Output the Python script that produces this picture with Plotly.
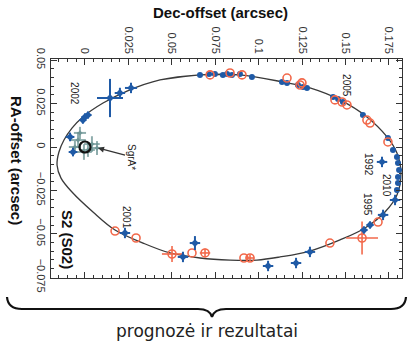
import plotly.graph_objects as go

# ---------------- data (arcsec) ----------------
orbit_dec = [0.0432, 0.0662, 0.0892, 0.1140, 0.1295, 0.1468, 0.1623, 0.1739, 0.1796, 0.1819,
             0.1796, 0.1727, 0.1612, 0.1468, 0.1295, 0.1123, 0.0990, 0.0835, 0.0662, 0.0489,
             0.0334, 0.0173, 0.0046, -0.0075, -0.0138, -0.0161, -0.0150, -0.0121, -0.0075, -0.0012,
             0.0104, 0.0242, 0.0432, 0.0662, 0.0892]
orbit_ra = [0.0386, 0.0415, 0.0415, 0.0374, 0.0340, 0.0271, 0.0173, 0.0058, -0.0035, -0.0150,
            -0.0276, -0.0374, -0.0466, -0.0535, -0.0599, -0.0633, -0.0651, -0.0651, -0.0639, -0.0610,
            -0.0553, -0.0478, -0.0374, -0.0259, -0.0179, -0.0104, -0.0029, 0.0040, 0.0109, 0.0173,
            0.0253, 0.0322, 0.0386, 0.0415, 0.0415]

blue_dot_dec = [0.0662, 0.0714, 0.0748, 0.0794, 0.0818, 0.0846, 0.0892, 0.0961, 0.1134, 0.1163,
                0.1226, 0.1255, 0.1278, 0.1428, 0.1457, 0.1485, 0.1600, 0.1744, 0.1773, 0.1796,
                0.1802, 0.1808, 0.1802, 0.1802, 0.1796]
blue_dot_ra = [0.0415, 0.0420, 0.0420, 0.0415, 0.0420, 0.0415, 0.0420, 0.0403, 0.0374, 0.0369,
               0.0357, 0.0345, 0.0339, 0.0288, 0.0276, 0.0259, 0.0184, 0.0052, -0.0017, -0.0058,
               -0.0092, -0.0132, -0.0173, -0.0207, -0.0248]

orange_dec = [0.0720, 0.0835, 0.0904, 0.1163, 0.1238, 0.1249, 0.1439, 0.1480, 0.1508, 0.1623,
              0.1641, 0.1744, 0.1687, 0.1410, 0.0915, 0.0950, 0.0691, 0.0616, 0.0294, 0.0173,
              0.1595, 0.0501]
orange_ra = [0.0415, 0.0426, 0.0415, 0.0397, 0.0357, 0.0369, 0.0271, 0.0259, 0.0242, 0.0155,
             0.0138, 0.0029, -0.0432, -0.0553, -0.0639, -0.0639, -0.0610, -0.0610, -0.0524, -0.0484,
             -0.0524, -0.0616]
orange_err_dec = [0, 0, 0, 0, 0, 0, 0, 0, 0, 0, 0, 0, 0, 0, 0, 0.0025, 0.0030, 0, 0, 0,
                  0.0092, 0.0058]
orange_err_ra = [0, 0, 0, 0, 0, 0, 0, 0, 0, 0, 0, 0, 0, 0, 0, 0.0020, 0.0025, 0, 0, 0,
                 0.0095, 0.0046]

cross_dec = [0.0144, 0.0201, 0.0265, 0.0000, 0.0017, -0.0012, -0.0086, -0.0069, 0.1710, 0.1785,
             0.1716, 0.1641, 0.1606, 0.1295, 0.1215, 0.1054, 0.0564, 0.0633, 0.0230]
cross_ra = [0.0282, 0.0311, 0.0340, 0.0173, 0.0184, 0.0155, 0.0058, -0.0029, -0.0086, -0.0305,
            -0.0391, -0.0449, -0.0478, -0.0604, -0.0668, -0.0685, -0.0633, -0.0553, -0.0495]
cross_err_dec = [0.0075, 0.0030, 0.0035, 0.0020, 0.0020, 0.0020, 0.0025, 0.0025, 0.0030, 0.0030,
                 0.0030, 0.0020, 0.0020, 0.0030, 0.0030, 0.0030, 0.0030, 0.0030, 0.0030]
cross_err_ra = [0.0110, 0.0030, 0.0030, 0.0020, 0.0020, 0.0020, 0.0025, 0.0025, 0.0030, 0.0030,
                0.0030, 0.0020, 0.0020, 0.0030, 0.0030, 0.0030, 0.0030, 0.0040, 0.0030]

flare_dec = [-0.0040, -0.0006, 0.0040, 0.0017, 0.0069, -0.0029, -0.0058]
flare_ra = [0.0040, -0.0029, 0.0017, -0.0017, -0.0006, 0.0081, 0.0000]
flare_err = [0.0045, 0.0045, 0.0045, 0.0040, 0.0040, 0.0035, 0.0035]

sgra_dec = [0.0]
sgra_ra = [0.0]

x_ticks = [0, 0.025, 0.05, 0.075, 0.1, 0.125, 0.15, 0.175]
x_ticktext = ["0", "0.025", "0.05", "0.075", "0.1", "0.125", "0.15", "0.175"]
y_ticks = [0.05, 0.025, 0, -0.025, -0.05, -0.075]
y_ticktext = ["0.05", "0.025", "0", "\u22120.025", "\u22120.05", "\u22120.075"]

year_labels = ["2002", "2005", "1992", "2010", "1995", "2001"]
year_dec = [-0.0058, 0.1508, 0.1635, 0.1739, 0.1629, 0.0242]
year_ra = [0.0305, 0.0351, -0.0098, -0.0219, -0.0334, -0.0403]

# ---------------- styling ----------------
BLUE = "#1f5aa6"
ORANGE = "#f2694b"
GRAY = "rgba(105,145,145,0.75)"
FONT = "Liberation Sans, Arial, sans-serif"

W, H = 414, 341
L, R, T, B = 51, 12, 59, 63
PW, PH = W - L - R, H - T - B


def px(x):
    return (x - L) / PW


def py(y):
    return (H - B - y) / PH


fig = go.Figure()

fig.add_trace(go.Scatter(x=orbit_dec, y=orbit_ra, mode="lines",
                         line=dict(color="#3a3a3a", width=1.3, shape="spline", smoothing=1.0),
                         hoverinfo="skip"))

fig.add_trace(go.Scatter(x=flare_dec, y=flare_ra, mode="markers",
                         marker=dict(symbol="diamond", size=4, color=GRAY),
                         error_x=dict(type="data", array=flare_err, color=GRAY, thickness=2, width=0),
                         error_y=dict(type="data", array=flare_err, color=GRAY, thickness=2, width=0)))

fig.add_trace(go.Scatter(x=blue_dot_dec, y=blue_dot_ra, mode="markers",
                         marker=dict(symbol="circle", size=6, color=BLUE),
                         error_x=dict(type="constant", value=0.0012, color=BLUE, thickness=1.5, width=0)))

fig.add_trace(go.Scatter(x=orange_dec, y=orange_ra, mode="markers",
                         marker=dict(symbol="circle-open", size=8, color=ORANGE, line=dict(width=1.6, color=ORANGE)),
                         error_x=dict(type="data", array=orange_err_dec, color=ORANGE, thickness=1.6, width=0),
                         error_y=dict(type="data", array=orange_err_ra, color=ORANGE, thickness=1.6, width=0)))

fig.add_trace(go.Scatter(x=cross_dec, y=cross_ra, mode="markers",
                         marker=dict(symbol="diamond", size=6, color=BLUE),
                         error_x=dict(type="data", array=cross_err_dec, color=BLUE, thickness=2, width=0),
                         error_y=dict(type="data", array=cross_err_ra, color=BLUE, thickness=2, width=0)))

fig.add_trace(go.Scatter(x=sgra_dec, y=sgra_ra, mode="markers",
                         marker=dict(symbol="circle-open", size=11, color="#111", line=dict(width=2.2, color="#111"))))

annotations = []
for t, xd, yd in zip(year_labels, year_dec, year_ra):
    annotations.append(dict(x=xd, y=yd, xref="x", yref="y", text=t, showarrow=False, textangle=90,
                            font=dict(family=FONT, size=10, color="#222")))

annotations.append(dict(x=0.0075, y=-0.0006, xref="x", yref="y", text="SgrA*", showarrow=True,
                        ax=34, ay=9, textangle=90, arrowhead=2, arrowsize=1, arrowwidth=1.2,
                        arrowcolor="#333", font=dict(family=FONT, size=10, color="#222")))
annotations.append(dict(x=-0.0104, y=-0.0535, xref="x", yref="y", text="<b>S2 (S02)</b>", showarrow=False,
                        textangle=90, font=dict(family=FONT, size=15, color="#111")))
annotations.append(dict(x=px(220), y=py(13), xref="paper", yref="paper", text="<b>Dec-offset (arcsec)</b>",
                        xanchor="center", yanchor="middle",
                        showarrow=False, font=dict(family=FONT, size=15, color="#111")))
annotations.append(dict(x=px(17), y=py(160), xref="paper", yref="paper", text="<b>RA-offset (arcsec)</b>",
                        xanchor="center", yanchor="middle",
                        showarrow=False, textangle=90, font=dict(family=FONT, size=15, color="#111")))
annotations.append(dict(x=px(207), y=py(331), xref="paper", yref="paper", text="prognozė ir rezultatai",
                        xanchor="center", yanchor="middle",
                        showarrow=False, font=dict(family="DejaVu Sans", size=17, color="#222")))

# curly brace under the plot
pts = [(7, 297), (8, 309), (22, 309), (198, 309), (210, 309), (212, 317), (214, 309), (226, 309),
       (391, 309), (405, 309), (406, 297)]
P = [(px(a), py(b)) for a, b in pts]
brace = (f"M {P[0][0]},{P[0][1]} Q {P[1][0]},{P[1][1]} {P[2][0]},{P[2][1]} "
         f"L {P[3][0]},{P[3][1]} Q {P[4][0]},{P[4][1]} {P[5][0]},{P[5][1]} "
         f"Q {P[6][0]},{P[6][1]} {P[7][0]},{P[7][1]} L {P[8][0]},{P[8][1]} "
         f"Q {P[9][0]},{P[9][1]} {P[10][0]},{P[10][1]}")

fig.update_layout(
    width=W, height=H, margin=dict(l=L, r=R, t=T, b=B),
    paper_bgcolor="white", plot_bgcolor="white", showlegend=False,
    annotations=annotations,
    shapes=[dict(type="path", path=brace, xref="paper", yref="paper",
                 line=dict(color="#111", width=2.2))],
)

axis_common = dict(showgrid=False, zeroline=False, showline=True, linecolor="#333", linewidth=1.4,
                   ticks="inside", ticklen=6, tickwidth=1.2, tickcolor="#333", mirror="allticks",
                   tickangle=90, tickfont=dict(family=FONT, size=11, color="#333"),
                   minor=dict(ticks="inside", ticklen=3, tickwidth=1, tickcolor="#333", dtick=0.005, tick0=0))

fig.update_xaxes(range=[-0.01957, 0.1825], side="top", tickmode="array", tickvals=x_ticks,
                 ticktext=x_ticktext, **axis_common)
fig.update_yaxes(range=[-0.07542, 0.05066], tickmode="array", tickvals=y_ticks,
                 ticktext=y_ticktext, **axis_common)

fig.write_html("out.html")
